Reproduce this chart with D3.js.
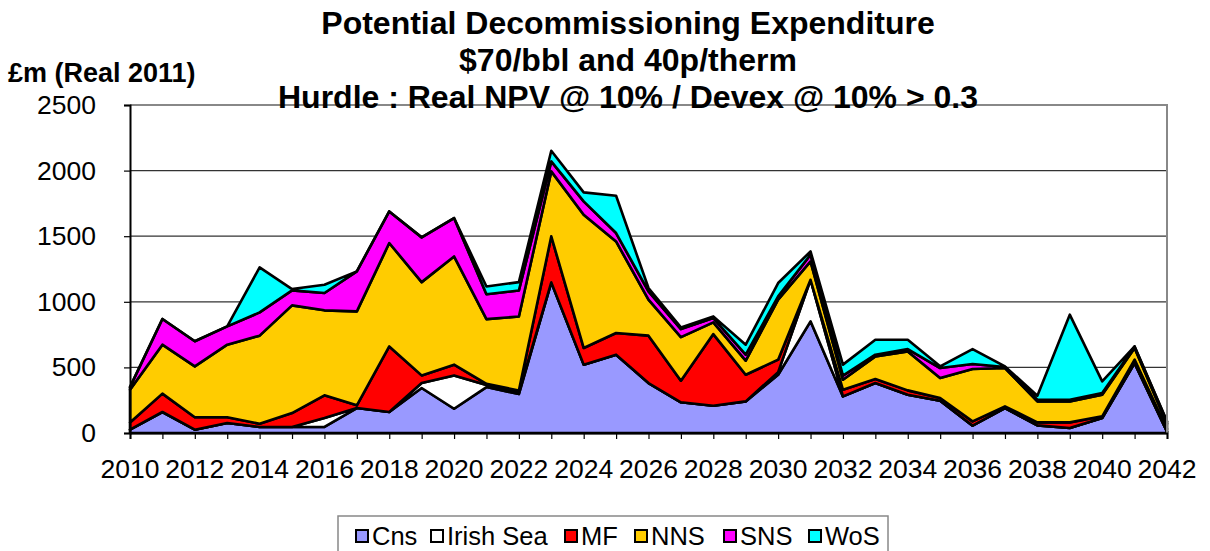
<!DOCTYPE html>
<html>
<head>
<meta charset="utf-8">
<script src="https://cdn.jsdelivr.net/npm/d3@7"></script>
<style>
  body { margin: 0; background: #fff; }
  text { font-family: Arial, "Liberation Sans", sans-serif; }
</style>
</head>
<body>
<svg id="chart" width="1210" height="551"></svg>
<script>
// data (£m, real 2011)
const years = d3.range(2010, 2043);
const cns      = [25,160,25,76,46,46,46,190,160,343,185,350,297,1148,521,597,381,234,208,241,444,851,279,381,292,246,56,190,58,38,114,533,10];
const irishSea = [0,0,0,0,0,0,68,0,0,38,254,15,15,0,0,0,0,0,0,0,20,317,0,0,0,0,0,0,0,0,0,0,0];
const mf       = [55,140,95,44,25,106,173,21,500,58,82,10,12,351,127,165,361,165,546,203,95,0,51,30,33,21,33,13,23,43,13,26,20];
const nns      = [250,373,388,553,671,821,648,716,788,711,825,493,564,495,1016,698,274,332,89,107,457,140,76,173,297,152,399,292,160,160,165,89,40];
const sns      = [20,196,191,140,177,114,132,305,241,341,292,190,198,76,101,64,64,61,33,46,25,51,31,13,18,76,38,8,13,13,13,12,15];
const wos      = [0,0,0,0,343,10,63,0,0,0,0,59,64,81,69,284,25,13,13,76,102,25,84,114,71,13,114,5,30,648,89,0,5];

const seriesNames = ["Cns", "Irish Sea", "MF", "NNS", "SNS", "WoS"];
const seriesColors = ["#9999ff", "#ffffff", "#ff0000", "#ffcc00", "#ff00ff", "#00ffff"];
const yTicks = [0, 500, 1000, 1500, 2000, 2500];
const xTicks = d3.range(2010, 2043, 2);
const titleLines = ["Potential Decommissioning Expenditure", "$70/bbl and 40p/therm", "Hurdle : Real NPV @ 10% / Devex @ 10% > 0.3"];

const rows = years.map((yr, i) => ({
  year: yr,
  "Cns": cns[i], "Irish Sea": irishSea[i], "MF": mf[i],
  "NNS": nns[i], "SNS": sns[i], "WoS": wos[i]
}));

const svg = d3.select("#chart");
const margin = {left: 130, right: 43, top: 105, bottom: 118};
const width = 1210, height = 551;

const x = d3.scaleLinear().domain([2010, 2042]).range([margin.left, width - margin.right]);
const y = d3.scaleLinear().domain([0, 2500]).range([height - margin.bottom, margin.top]);

// gridlines
svg.append("g")
  .selectAll("line")
  .data(yTicks.slice(1))
  .join("line")
  .attr("x1", x(2010)).attr("x2", x(2042))
  .attr("y1", d => y(d)).attr("y2", d => y(d))
  .attr("stroke", "#333").attr("stroke-width", 1.2);

// stacked areas
const stack = d3.stack().keys(seriesNames);
const layers = stack(rows);
const area = d3.area()
  .x(d => x(d.data.year))
  .y0(d => y(d[0]))
  .y1(d => y(d[1]));

svg.append("g")
  .selectAll("path")
  .data(layers)
  .join("path")
  .attr("d", area)
  .attr("fill", (d, i) => seriesColors[i])
  .attr("stroke", "#000")
  .attr("stroke-width", 2.6)
  .attr("stroke-linejoin", "round");

// plot border (grey)
svg.append("path")
  .attr("d", `M${x(2010)},${y(2500)}H${x(2042)}V${y(0)}`)
  .attr("fill", "none").attr("stroke", "#888").attr("stroke-width", 2);

// axes
const xAxis = svg.append("g")
  .attr("transform", `translate(0,${y(0)})`)
  .call(d3.axisBottom(x).tickValues(years).tickSize(6).tickFormat(""));
xAxis.select(".domain").attr("stroke", "#000").attr("stroke-width", 2);
xAxis.selectAll(".tick line").attr("stroke", "#000").attr("stroke-width", 1.2);

svg.append("g")
  .selectAll("text")
  .data(xTicks)
  .join("text")
  .attr("x", d => x(d))
  .attr("y", y(0) + 45)
  .attr("text-anchor", "middle")
  .attr("font-size", 26.5)
  .text(d => d);

const yAxis = svg.append("g")
  .attr("transform", `translate(${x(2010)},0)`)
  .call(d3.axisLeft(y).tickValues(yTicks).tickSize(6).tickPadding(28).tickFormat(d3.format("d")));
yAxis.select(".domain").attr("stroke", "#000").attr("stroke-width", 2);
yAxis.selectAll(".tick line").attr("stroke", "#000").attr("stroke-width", 1.2);
yAxis.selectAll(".tick text")
  .attr("font-size", 26.5)
  .attr("font-family", "Arial, 'Liberation Sans', sans-serif")
  .attr("fill", "#000");

// title
svg.append("g")
  .selectAll("text")
  .data(titleLines)
  .join("text")
  .attr("x", 628)
  .attr("y", (d, i) => 34 + i * 37)
  .attr("text-anchor", "middle")
  .attr("font-size", 32)
  .attr("font-weight", "bold")
  .text(d => d);

// y label
svg.append("text")
  .attr("x", 8).attr("y", 82)
  .attr("font-size", 27)
  .attr("font-weight", "bold")
  .text("£m (Real 2011)");

// legend
const legend = svg.append("g");
legend.append("rect")
  .attr("x", 338).attr("y", 516)
  .attr("width", 550).attr("height", 50)
  .attr("fill", "#fff").attr("stroke", "#888").attr("stroke-width", 1.5);

const legendX = [356, 431, 565, 635, 724, 809];
const items = legend.selectAll("g.item")
  .data(seriesNames)
  .join("g")
  .attr("class", "item")
  .attr("transform", (d, i) => `translate(${legendX[i]},0)`);
items.append("rect")
  .attr("x", 0).attr("y", 530)
  .attr("width", 12).attr("height", 12)
  .attr("fill", (d, i) => seriesColors[i])
  .attr("stroke", "#000").attr("stroke-width", 2);
items.append("text")
  .attr("x", 16).attr("y", 545)
  .attr("font-size", 25.5)
  .text(d => d);
</script>
</body>
</html>
